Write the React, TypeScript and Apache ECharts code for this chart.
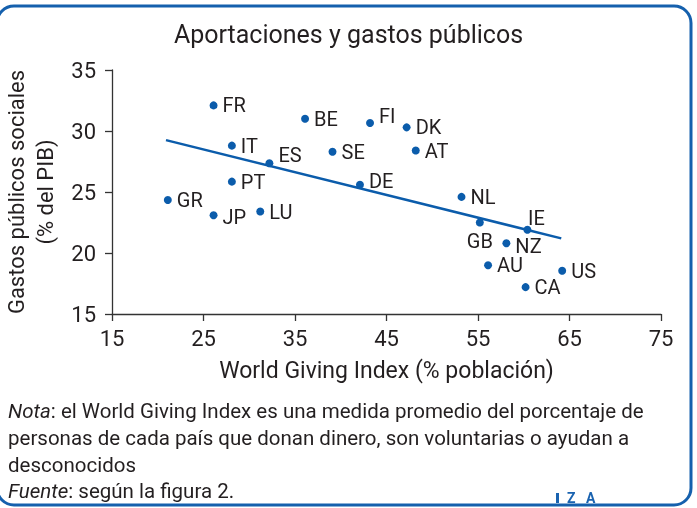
import React, { useEffect, useRef } from 'react';
import * as echarts from 'echarts';

const countries = ['FR', 'BE', 'IT', 'ES', 'SE', 'PT', 'GR', 'JP', 'LU', 'FI', 'DK', 'AT', 'DE', 'NL', 'GB', 'IE', 'NZ', 'AU', 'US', 'CA'];
const givingIndex = [26.1, 36.1, 28.1, 32.2, 39.1, 28.1, 21.1, 26.1, 31.2, 43.2, 47.2, 48.2, 42.1, 53.2, 55.2, 60.4, 58.1, 56.1, 64.2, 60.2];
const socialSpending = [32.1, 31.0, 28.8, 27.35, 28.3, 25.85, 24.35, 23.1, 23.4, 30.65, 30.3, 28.4, 25.6, 24.6, 22.5, 21.9, 20.8, 19.0, 18.55, 17.2];
const trendX = [20.9, 64.1];
const trendY = [29.25, 21.2];

const title = 'Aportaciones y gastos públicos';
const xName = 'World Giving Index (% población)';
const yName = 'Gastos públicos sociales\n(% del PIB)';
const noteLines = [
  '{i|Nota}: el World Giving Index es una medida promedio del porcentaje de',
  'personas de cada país que donan dinero, son voluntarias o ayudan a',
  'desconocidos',
  '{i|Fuente}: según la figura 2.',
];

const FONT = 'Roboto, "Liberation Sans", Arial, sans-serif';
const BLUE = '#0b5cab';
const TEXT = '#231f20';

const labelTweaks: Record<string, any> = {
  ES: { offset: [0, -8] },
  FI: { offset: [0, -7] },
  DE: { offset: [0, -4] },
  JP: { offset: [0, 2] },
  NZ: { offset: [0, 3] },
  GB: { position: 'bottom', distance: 4 },
  IE: { position: 'top', distance: 0, offset: [9, 2] },
};

export default function App() {
  const ref = useRef<HTMLDivElement>(null);
  useEffect(() => {
    if (!ref.current) return;
    const chart = echarts.init(ref.current, null, { renderer: 'svg' });
    const points = countries.map((c, i) => ({
      name: c,
      value: [givingIndex[i], socialSpending[i]],
      label: labelTweaks[c] || {},
    }));
    chart.setOption({
      animation: false,
      textStyle: { fontFamily: FONT },
      title: {
        text: title,
        left: 'center',
        top: 17,
        textStyle: { fontFamily: FONT, fontSize: 25, fontWeight: 'normal', color: TEXT },
      },
      grid: { left: 112, right: 36, top: 70, bottom: 194, containLabel: false, outerBoundsMode: 'none' },
      xAxis: {
        type: 'value',
        min: 15,
        max: 75,
        interval: 10,
        name: xName,
        nameLocation: 'middle',
        nameGap: 45,
        nameTextStyle: { fontFamily: FONT, fontSize: 23, color: TEXT },
        axisLine: { show: true, lineStyle: { color: '#333', width: 1.3 } },
        axisTick: { show: true, length: 7, lineStyle: { color: '#333', width: 1.3 } },
        axisLabel: { fontFamily: FONT, fontSize: 22, color: TEXT, margin: 13 },
        splitLine: { show: false },
      },
      yAxis: {
        type: 'value',
        min: 15,
        max: 35,
        interval: 5,
        name: yName,
        nameLocation: 'middle',
        nameRotate: 90,
        nameGap: 52,
        nameTextStyle: { fontFamily: FONT, fontSize: 22, color: TEXT, lineHeight: 29 },
        axisLine: { show: true, lineStyle: { color: '#333', width: 1.3 } },
        axisTick: { show: true, length: 7, lineStyle: { color: '#333', width: 1.3 } },
        axisLabel: { fontFamily: FONT, fontSize: 22, color: TEXT, margin: 16 },
        splitLine: { show: false },
      },
      series: [
        {
          type: 'line',
          data: trendX.map((x, i) => [x, trendY[i]]),
          showSymbol: false,
          lineStyle: { color: BLUE, width: 2.5 },
          z: 1,
        },
        {
          type: 'scatter',
          data: points,
          symbolSize: 8,
          itemStyle: { color: BLUE, opacity: 1 },
          label: {
            show: true,
            position: 'right',
            distance: 5,
            formatter: '{b}',
            fontFamily: FONT,
            fontSize: 20,
            color: TEXT,
          },
          z: 3,
        },
      ],
      graphic: [
        {
          type: 'rect',
          shape: { x: -3, y: 6, width: 694, height: 499, r: 17 },
          style: { fill: 'none', stroke: '#1560ad', lineWidth: 3 },
          silent: true,
        },
        ...noteLines.map((t, i) => ({
          type: 'text',
          x: 8,
          y: [411, 438, 465, 491][i],
          style: {
            text: t,
            fontFamily: FONT,
            fontSize: 20.5,
            fill: TEXT,
            verticalAlign: 'middle',
            rich: { i: { fontStyle: 'italic', fontFamily: FONT, fontSize: 20.5, fill: TEXT } },
          },
        })),
        {
          type: 'rect',
          shape: { x: 556, y: 493, width: 3, height: 10 },
          style: { fill: '#1a63b0' },
        },
        {
          type: 'text',
          x: 567,
          y: 498,
          style: {
            text: 'Z   A',
            fontFamily: FONT,
            fontSize: 14,
            fontWeight: 'bold',
            fill: '#1a63b0',
            verticalAlign: 'middle',
          },
        },
      ],
    });
    return () => chart.dispose();
  }, []);
  return <div ref={ref} style={{ position: 'fixed', left: 0, top: 0, width: 697, height: 508 }} />;
}
